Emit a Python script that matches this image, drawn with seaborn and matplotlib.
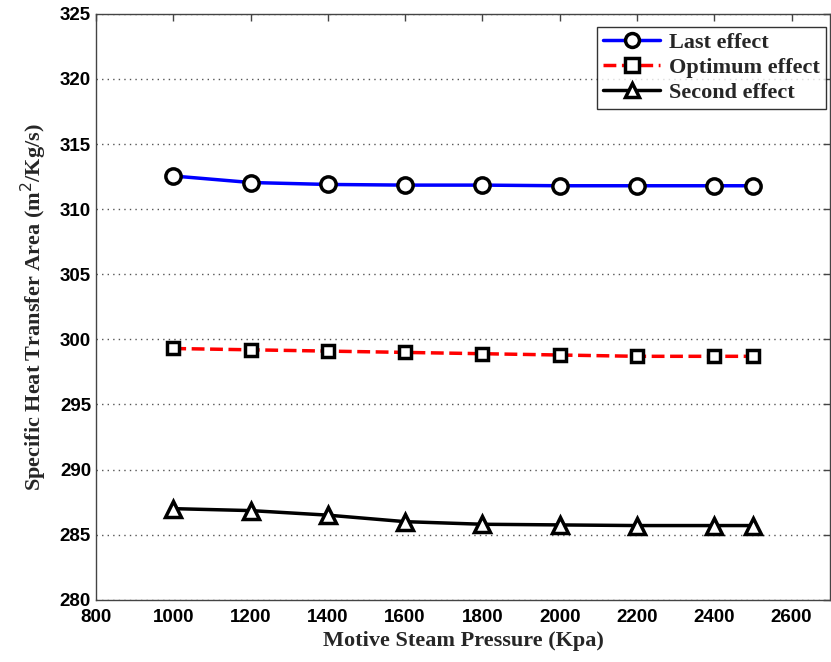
import matplotlib
matplotlib.use("Agg")
import matplotlib.pyplot as plt
import seaborn as sns
import pandas as pd

pressure = [1000, 1200, 1400, 1600, 1800, 2000, 2200, 2400, 2500]
last_effect = [312.55, 312.05, 311.9, 311.85, 311.85, 311.8, 311.8, 311.8, 311.8]
optimum_effect = [299.3, 299.2, 299.1, 299.0, 298.9, 298.8, 298.7, 298.7, 298.7]
second_effect = [287.0, 286.85, 286.5, 286.0, 285.8, 285.75, 285.7, 285.7, 285.7]

series_names = ["Last effect", "Optimum effect", "Second effect"]
series_vals = [last_effect, optimum_effect, second_effect]
colors = ["#0000ff", "#ff0000", "#000000"]
markers = ["o", "s", "^"]
styles = ["-", "--", "-"]
msizes = [11, 9, 12]

sns.set_style("white")
plt.rcParams["font.family"] = ["Liberation Sans", "DejaVu Sans"]

fig = plt.figure(figsize=(8.31, 6.62), dpi=100)
ax = fig.add_axes([0.1155, 0.094, 0.8835, 0.885])

for name, vals, c, m, ls, ms in zip(series_names, series_vals, colors, markers, styles, msizes):
    df = pd.DataFrame({"x": pressure, "y": vals})
    sns.lineplot(data=df, x="x", y="y", ax=ax, color=c, linestyle=ls, linewidth=2.5,
                 marker=m, markersize=ms, markerfacecolor="white",
                 markeredgecolor="black", markeredgewidth=2.5, label=name)

ax.set_xlim(800, 2700)
ax.set_ylim(280, 325)
ax.set_xticks(range(800, 2700, 200))
ax.set_yticks(range(280, 326, 5))
ax.yaxis.grid(True, linestyle=(0, (1, 3)), color="#555555", linewidth=1)
ax.xaxis.grid(False)
for s in ax.spines.values():
    s.set_color("#444444")
    s.set_linewidth(1)
ax.tick_params(direction="in", length=5, width=1, colors="#444444", top=True, right=True,
               labelcolor="black", labelsize=13.5)
ax.tick_params(axis="x", pad=7)
for lbl in ax.get_xticklabels() + ax.get_yticklabels():
    lbl.set_fontweight("bold")

ax.set_xlabel("Motive Steam Pressure (Kpa)", fontsize=16, fontweight="bold",
              family="Liberation Serif", labelpad=3)
ax.set_ylabel("Specific Heat Transfer Area (m$^2$/Kg/s)", fontsize=16, fontweight="bold",
              family="Liberation Serif", labelpad=8)

leg = ax.legend(loc="upper right", bbox_to_anchor=(1.0, 0.985), frameon=True, fancybox=False,
                edgecolor="black", handlelength=2.6, borderpad=0.25, labelspacing=0.2,
                handletextpad=0.4, borderaxespad=0.2,
                prop={"family": "Liberation Serif", "weight": "bold", "size": 16})
leg.get_frame().set_linewidth(1)
for h in leg.legend_handles:
    h.set_markersize(10)

fig.savefig("out.png", dpi=100)
